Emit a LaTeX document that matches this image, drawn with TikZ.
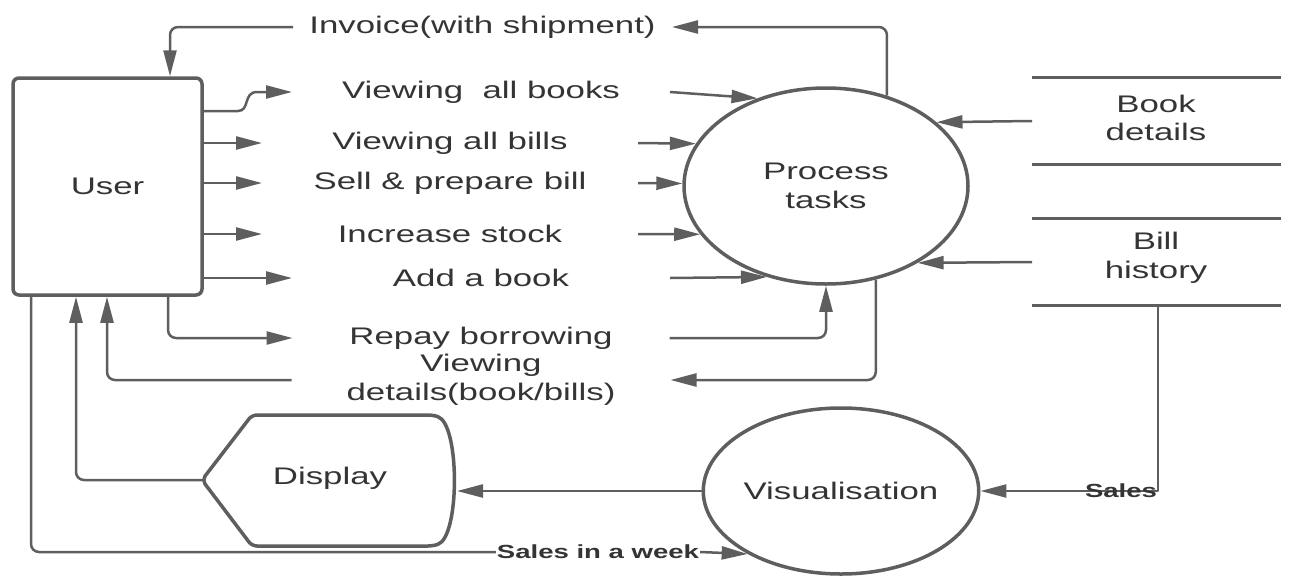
\documentclass[tikz,border=0pt]{standalone}
\usepackage{fontspec}
\setmainfont{Liberation Sans}[FakeStretch=1.45]
\usetikzlibrary{arrows.meta,shapes.geometric}
\definecolor{ink}{RGB}{94,94,94}
\definecolor{txt}{RGB}{52,52,52}
\begin{document}
\begin{tikzpicture}[x=1pt,y=-1pt,
  every node/.style={font=\fontsize{24}{28.5}\selectfont, text=txt, inner sep=0pt, outer sep=0pt},
  conn/.style={draw=ink, line width=2.5pt, line join=round},
  arr/.style={conn, -{Triangle[length=26pt,width=13pt]}},
  lbl/.style={minimum height=24pt, align=center},
  bubble/.style={draw=ink, line width=3.5pt, ellipse, outer sep=1.75pt, align=center},
  store/.style={draw=ink, line width=3pt},
  tag/.style={font=\fontsize{19}{22}\selectfont\bfseries}]
\useasboundingbox (0,0) rectangle (1290,576);

% external entity, processes, display
\node[draw=ink, line width=3.5pt, rounded corners=6pt, minimum width=189,
      minimum height=217, outer sep=1.75pt] (user) at (107.5,186.5) {User};
\node[bubble, minimum width=284, minimum height=196] (proc) at (826,186) {Process\\tasks};
\node[bubble, minimum width=266, minimum height=166] (vis) at (841,491) {Visualisation};

\draw[draw=ink, line width=3.5pt, rounded corners=5pt]
  (202,480) -- (252,415) -- (433,415) .. controls (460,424) and (460,537) .. (433,546)
  -- (252,546) -- cycle;
\node (disp) at (330,478) {Display};
\coordinate (dispTip) at (202,480);
\coordinate (dispR) at (457,491);

% data stores
\draw[store] (1032,77) -- (1281,77);
\draw[store] (1032,164) -- (1281,164);
\draw[store] (1032,218) -- (1281,218);
\draw[store] (1032,305) -- (1281,305);
\node[align=center] (bd) at (1156,118) {Book\\details};
\node[align=center] (bh) at (1156,258) {Bill\\history};
\coordinate (bdL) at (1032,121);
\coordinate (bhL) at (1032,262);
\coordinate (bhB) at (1158,305);

% flow labels
\node[lbl, minimum width=379] (inv) at (482.5,27) {Invoice(with shipment)};
\node[lbl, minimum width=378] (vab) at (481,92) {Viewing\ \ all books};
\node[lbl, minimum width=376] (vbl) at (450,143) {Viewing all bills};
\node[lbl, minimum width=376] (sell) at (450,183) {Sell \& prepare bill};
\node[lbl, minimum width=376] (inc) at (450,234) {Increase stock};
\node[lbl, minimum width=378] (adb) at (481,278) {Add a book};
\node[lbl, minimum width=377] (rep) at (481,338) {Repay borrowing};
\node[lbl, minimum width=379] (vd) at (481,380) {Viewing\\details(book/bills)};
\node[tag, fill=white, inner sep=1pt] (siw) at (598,552) {Sales in a week};

% user -> process
\draw[arr] (user.east |- 0,111) -- (238,111) .. controls (250,111) and (243,92) .. (257,92) -- (vab.west);
\draw[arr] (vab.east) -- (proc.128);
\draw[arr] (user.east |- vbl.west) -- (vbl.west);
\draw[arr] (vbl.east) -- (proc.162);
\draw[arr] (user.east |- sell.west) -- (sell.west);
\draw[arr] (sell.east) -- (proc.179);
\draw[arr] (user.east |- inc.west) -- (inc.west);
\draw[arr] (inc.east) -- (proc.201);
\draw[arr] (user.east |- adb.west) -- (adb.west);
\draw[arr] (adb.east) -- (proc.237);
\draw[arr, rounded corners=8pt] (user.south -| 168,0) |- (rep.west);
\draw[arr, rounded corners=8pt] (rep.east) -| (proc.south);

% process -> user
\draw[arr, rounded corners=8pt] (proc.56.6) |- (inv.east);
\draw[arr, rounded corners=8pt] (inv.west) -| (user.north -| 170,0);
\draw[arr, rounded corners=8pt] (proc.298.6) |- (vd.east);
\draw[arr, rounded corners=8pt] (vd.west) -| (user.south -| 107,0);

% stores -> processes
\draw[arr] (bdL) -- (proc.30.7);
\draw[arr] (bhL) -- (proc.320.9);
\draw[arr] (bhB) |- (vis.east);
\node[tag] (sal) at (1121,491) {Sales};

% visualisation and display
\draw[arr] (vis.west) -- (dispR);
\draw[arr, rounded corners=8pt] (dispTip) -| (user.south -| 76,0);
\draw[conn, rounded corners=8pt] (user.south -| 31,0) |- (siw.west);
\draw[arr] (siw.east) -- (vis.214.8);
\end{tikzpicture}
\end{document}
